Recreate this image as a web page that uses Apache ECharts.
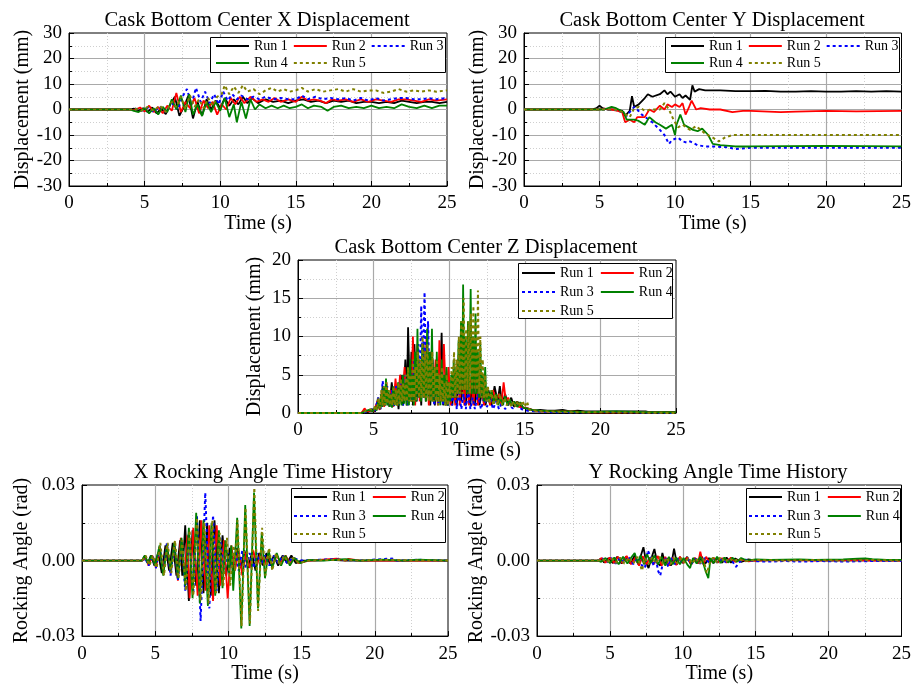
<!DOCTYPE html>
<html>
<head>
<meta charset="utf-8">
<title>Cask Bottom Center Response</title>
<script src="https://cdn.jsdelivr.net/npm/echarts@6/dist/echarts.min.js"></script>
<style>
  html, body { margin: 0; padding: 0; background: #fff; }
  #chart { width: 914px; height: 685px; }
</style>
</head>
<body>
<div id="chart"></div>
<script>
// ---- Data: [time (s), value] pairs per run ----
const runNames = ['Run 1', 'Run 2', 'Run 3', 'Run 4', 'Run 5'];
const timeTicks = [0, 5, 10, 15, 20, 25];

// Cask bottom center X displacement (mm)
const xDisp1 = [[0,0],[4,0],[4.3,0.3],[4.6,-0.5],[4.9,0.5],[5.2,-1],[5.5,0.8],[5.8,-1.5],[6.1,0.5],[6.4,-1.8],[6.7,2],[7.0,5],[7.3,-2.5],[7.6,1],[7.9,5.5],[8.2,-3.5],[8.5,3],[8.8,-2.5],[9.1,4],[9.4,0],[9.7,3.5],[10.0,0.5],[10.3,4.5],[10.6,1.5],[10.9,4],[11.2,2],[11.5,5],[11.8,2.5],[12.1,4.5],[12.5,2.5],[13,4],[13.5,3],[14,3.5],[14.5,2.5],[15,3.5],[15.5,4],[16,3],[16.5,3.5],[17,2.5],[17.5,3.5],[18,3],[18.5,3.5],[19,2.5],[19.5,3],[20,3],[20.5,2.5],[21,3],[21.5,2.5],[22,3.5],[22.5,3],[23,2.5],[23.5,3],[24,3],[24.5,2.5],[25,3]];
const xDisp2 = [[0,0],[4,0],[4.3,-0.3],[4.7,0.8],[5.0,-0.8],[5.3,1.5],[5.6,-1],[5.9,1],[6.2,-1.5],[6.5,1.5],[6.8,-0.5],[7.1,6.5],[7.4,-1],[7.7,3],[8.0,0.5],[8.3,4.5],[8.6,-1.5],[8.9,3.5],[9.2,0.5],[9.5,3],[9.8,-2],[10.1,2],[10.4,0],[10.7,4.5],[11.0,2],[11.3,5],[11.6,2.5],[12.0,5],[12.4,3],[12.8,4],[13.2,3],[13.6,4.5],[14,3],[14.5,4],[15,3],[15.4,5],[15.8,3.5],[16.2,4],[16.6,3.5],[17,2.5],[17.4,4],[17.8,3.5],[18.3,4],[18.8,3],[19.3,4],[19.8,3],[20.3,4],[20.8,3.5],[21.3,3],[21.8,4],[22.3,4],[22.8,3.5],[23.3,3],[23.8,4],[24.3,3.5],[25,4]];
const xDisp3 = [[0,0],[4,0],[4.4,0.3],[4.8,-0.5],[5.2,0.8],[5.6,-1],[6.0,1.2],[6.4,-1],[6.8,2.5],[7.2,0],[7.5,5],[7.8,8],[8.1,2],[8.4,8.5],[8.7,3],[9.0,7],[9.3,2.5],[9.6,6],[9.9,2],[10.2,7],[10.5,3.5],[10.8,6],[11.1,4],[11.4,5.5],[11.8,4],[12.2,5],[12.6,4],[13,5],[13.5,4],[14,4.5],[14.5,4],[15,4],[15.4,5.5],[15.8,4],[16.3,5],[16.8,4],[17.3,4.5],[17.8,4],[18.3,4.5],[18.8,3.5],[19.3,4.5],[19.8,3.5],[20.3,4.5],[20.8,3.5],[21.3,4],[21.8,4.5],[22.3,4.5],[22.8,4],[23.3,4],[23.8,4.5],[24.3,4],[25,4.5]];
const xDisp4 = [[0,0],[4,0],[4.3,-0.5],[4.6,-1],[5.0,0.5],[5.3,-1.5],[5.6,0.5],[5.9,-2],[6.2,1],[6.5,-1],[6.8,4],[7.1,0],[7.4,5.5],[7.7,-1],[7.95,6],[8.2,-2],[8.5,2],[8.8,-2.5],[9.1,3],[9.4,-1],[9.7,3],[10.0,-0.5],[10.3,4.5],[10.6,-3],[10.9,2],[11.1,-5],[11.4,3],[11.7,-3.5],[12.0,4],[12.3,0],[12.6,2],[13,0.5],[13.4,1.5],[13.8,0.5],[14.2,1.5],[14.6,0.5],[15,1],[15.4,2],[15.8,0.5],[16.2,1.5],[16.7,1],[17.1,-0.5],[17.5,1],[18,1.5],[18.5,0.5],[19,1],[19.5,0.5],[20,1.5],[20.5,0.5],[21,1],[21.5,0.5],[22,2],[22.5,1],[23,0.5],[23.5,1.5],[24,0.5],[24.5,1.5],[25,1.5]];
const xDisp5 = [[0,0],[4,0],[4.4,0.3],[4.8,-0.5],[5.2,1],[5.6,-0.5],[6.0,1.5],[6.4,-1],[6.8,3],[7.1,1],[7.4,5],[7.7,0],[8.0,5.5],[8.3,1],[8.6,4],[8.9,0.5],[9.2,4.5],[9.5,1.5],[9.8,5],[10.1,6],[10.3,9.5],[10.6,6],[10.9,9],[11.2,6.5],[11.5,9.5],[11.8,7],[12.2,8],[12.6,6],[13,7.5],[13.4,8.5],[13.8,7],[14.2,8],[14.6,7],[15,7.5],[15.4,8.5],[15.8,7],[16.3,8],[16.8,7],[17.3,7.5],[17.8,8],[18.3,7],[18.8,8],[19.3,7],[19.8,7.5],[20.3,7.5],[20.8,6.5],[21.3,7],[21.8,8],[22.3,7],[22.8,7.5],[23.3,7],[23.8,7.5],[24.3,7],[25,7.5]];

// Cask bottom center Y displacement (mm)
const yDisp1 = [[0,0],[4.5,0],[4.8,0.5],[5.0,1.5],[5.2,0.5],[5.5,0],[6.0,0],[6.5,-0.5],[6.7,-2.5],[7.0,-0.5],[7.15,5.2],[7.3,1],[7.6,2],[8.0,4.5],[8.2,6],[8.5,5],[9.0,6],[9.3,7.5],[9.5,6],[9.7,7],[10.0,5],[10.3,6],[10.5,4.5],[10.7,5.5],[11.0,3.8],[11.15,9.5],[11.3,7],[11.6,8],[12,7.5],[13,7.5],[14,7.2],[15,7.2],[16,7.3],[17,7.0],[18,7.0],[19,7.2],[20,7.0],[21,7.0],[22,7.2],[23,7.0],[24,7.2],[25,7.0]];
const yDisp2 = [[0,0],[5.0,0],[5.3,0.3],[5.8,0],[6.2,-0.5],[6.5,-1],[6.7,-5],[7.0,-4],[7.3,-5],[7.5,-3],[8.0,-3],[8.3,0],[8.6,-1],[9.0,1.5],[9.3,0],[9.5,2],[9.8,1],[10.0,2],[10.3,1],[10.5,2.5],[10.7,-2],[10.9,0.5],[11.1,3.5],[11.4,0],[11.7,0.5],[12.3,0],[13,0],[13.8,-1],[14.5,-0.5],[15,-0.5],[17,-1],[18,-0.8],[20,-0.5],[22,-0.7],[25,-0.5]];
const yDisp3 = [[0,0],[6.0,0],[6.5,-1],[6.8,-2.5],[7.0,-1],[7.3,1],[7.5,0],[7.8,-2],[8.5,-5],[9.0,-8],[9.3,-10],[9.6,-13.5],[9.8,-12],[10.2,-11],[10.5,-12.5],[10.8,-13],[11.0,-12.5],[11.5,-14],[12,-14.5],[12.5,-14.5],[13.5,-14.8],[14,-15.5],[15,-15],[20,-15],[25,-15]];
const yDisp4 = [[0,0],[5.3,0],[5.8,1],[6.1,0.5],[6.6,-1],[6.8,-4],[7.3,-4],[7.6,-4.5],[8.0,-6],[8.3,-3],[8.7,-5],[9.0,-6],[9.4,-7.5],[9.8,-6],[10.0,-10],[10.1,-6],[10.35,-2],[10.6,-6],[10.9,-7],[11.2,-8],[11.5,-8.5],[11.8,-7.5],[12.2,-10],[12.5,-13.5],[13,-14],[14,-14.5],[15,-14.5],[20,-14.3],[25,-14.5]];
const yDisp5 = [[0,0],[6.0,0],[6.5,-1],[7.0,-3],[7.3,0.5],[7.6,1],[8,-0.5],[8.5,0],[9,0],[9.3,2.5],[9.6,0],[9.9,-4],[10.2,-7],[10.5,-6],[11,-8],[11.4,-6.5],[12,-9.5],[12.5,-11],[12.9,-12.5],[13.3,-11],[13.8,-10],[15,-10],[20,-10],[25,-10]];

// Cask bottom center Z displacement (mm)
const zDisp1 = [[0,0],[4.2,0],[4.4,0.3],[4.6,0.1],[4.9,0.5],[5.1,0.2],[5.3,2],[5.45,0.5],[5.6,3.5],[5.75,1],[5.9,3],[6.05,0.8],[6.2,4],[6.35,1],[6.5,3.5],[6.65,0.5],[6.8,5],[6.95,1],[7.1,7],[7.2,1.5],[7.28,11.2],[7.4,2],[7.5,8],[7.6,1],[7.7,9],[7.85,1.5],[8.0,7],[8.15,1],[8.3,9],[8.45,1.5],[8.6,8],[8.75,1],[8.9,7],[9.05,1],[9.2,6],[9.35,1.5],[9.5,10.5],[9.6,1],[9.75,5],[9.9,1],[10.05,3],[10.2,1],[10.35,4],[10.5,1],[10.65,6],[10.8,1.5],[10.95,5],[11.1,1],[11.25,6],[11.4,1],[11.55,5],[11.7,1],[11.85,4],[12.0,1],[12.2,3],[12.4,1],[12.6,3],[12.8,1],[13.0,3.5],[13.2,1.5],[13.35,3.5],[13.5,1],[13.7,2.5],[13.9,1],[14.1,2],[14.3,0.8],[14.5,1.5],[14.8,0.7],[15.2,0.6],[15.6,0.3],[16,0.4],[16.5,0.3],[17,0.3],[17.5,0.4],[18,0.2],[18.5,0.3],[19,0.2],[20,0.2],[21,0.2],[22,0.2],[23,0.2],[23.2,0.1],[24,0.1],[25,0.1]];
const zDisp2 = [[0,0],[4.2,0],[4.4,0.6],[4.55,0.2],[4.8,0.3],[5.0,0.2],[5.25,1.5],[5.4,0.4],[5.55,3],[5.7,0.8],[5.85,4],[6.0,1],[6.15,3],[6.3,0.8],[6.45,4.5],[6.6,1],[6.75,5],[6.9,1.5],[7.05,6],[7.2,1],[7.35,5],[7.5,1.5],[7.6,10],[7.75,1],[7.9,9],[8.05,1.5],[8.2,7],[8.35,2],[8.5,10],[8.65,1],[8.8,8],[8.95,1.5],[9.1,7],[9.25,1],[9.35,9.5],[9.5,1.5],[9.65,9],[9.8,1],[9.95,6],[10.1,1],[10.25,5],[10.4,1],[10.55,7],[10.7,1],[10.85,6],[11.0,1],[11.15,5],[11.3,1],[11.45,4.5],[11.6,1],[11.75,5],[11.9,1],[12.1,3.5],[12.3,1],[12.5,3],[12.7,1],[12.9,3],[13.1,1.5],[13.3,2.5],[13.45,1],[13.6,4],[13.75,1.5],[13.9,2],[14.1,1],[14.3,1.5],[14.6,0.8],[15,0.7],[15.5,0.4],[16,0.2],[17,0.2],[18,0.2],[19,0.1],[20,0.1],[22,0.1],[25,0.1]];
const zDisp3 = [[0,0],[4.3,0],[4.6,0.3],[4.9,0.5],[5.1,0.3],[5.3,2],[5.45,0.5],[5.6,4.2],[5.75,1],[5.9,3.5],[6.05,1],[6.2,3],[6.35,0.8],[6.5,3.5],[6.65,1],[6.8,4],[6.95,1],[7.1,5],[7.25,1],[7.4,6],[7.55,1.5],[7.7,7],[7.85,1.5],[7.95,9],[8.05,3],[8.15,14],[8.25,4],[8.37,15.8],[8.48,3],[8.6,12],[8.72,2],[8.85,8],[9.0,1],[9.15,6],[9.3,1],[9.45,5],[9.6,1],[9.75,4],[9.9,0.8],[10.05,3],[10.2,1],[10.35,4],[10.5,0.5],[10.65,3],[10.8,0.5],[10.95,2.5],[11.1,0.5],[11.25,3],[11.4,0.5],[11.55,2],[11.7,0.5],[11.9,2.5],[12.1,0.5],[12.3,2],[12.5,0.8],[12.7,2],[12.9,0.5],[13.1,1.5],[13.3,0.5],[13.5,1.5],[13.7,0.5],[13.9,1.2],[14.2,0.6],[14.5,1],[14.8,0.5],[15.2,0.3],[16,0.2],[17,0.1],[19,0.1],[21,0.15],[22,0.1],[25,0]];
const zDisp4 = [[0,0],[4.2,0],[4.4,0.2],[4.7,0.4],[4.95,0.2],[5.1,0.8],[5.2,0.3],[5.3,1.5],[5.4,0.5],[5.5,2.5],[5.58,0.8],[5.66,3.5],[5.74,1],[5.82,4.5],[5.9,1],[5.98,3],[6.06,0.8],[6.14,2.5],[6.22,0.7],[6.3,3.5],[6.38,1],[6.46,3],[6.54,1],[6.62,4],[6.7,1],[6.78,3.5],[6.86,1],[6.94,5],[7.02,1.2],[7.1,4],[7.18,1],[7.26,6],[7.34,1],[7.42,7],[7.5,1.5],[7.58,5],[7.66,1],[7.74,8],[7.82,1.5],[7.9,11],[7.98,2],[8.06,6],[8.14,1.5],[8.22,9],[8.3,2],[8.38,7],[8.46,1.5],[8.54,11],[8.62,2],[8.7,8],[8.78,1.5],[8.86,11],[8.94,1.5],[9.02,6],[9.1,1.5],[9.18,8],[9.26,1.5],[9.34,5],[9.42,1],[9.5,7],[9.58,1.5],[9.66,5],[9.74,1],[9.82,6],[9.9,1],[9.98,4],[10.06,1.5],[10.14,5],[10.22,2],[10.3,7],[10.38,2],[10.46,6],[10.54,2.5],[10.62,9.5],[10.7,2.5],[10.78,12],[10.86,3],[10.92,16.8],[11.0,3],[11.08,10],[11.16,2.5],[11.24,12],[11.32,2.5],[11.42,16.2],[11.5,2.5],[11.58,10],[11.66,2.5],[11.74,13],[11.82,2.5],[11.9,8],[11.98,2],[12.06,9],[12.14,2],[12.22,5],[12.3,1.5],[12.38,6],[12.46,1.5],[12.55,3],[12.65,1.5],[12.8,3],[12.95,1.2],[13.1,2.5],[13.25,1],[13.4,2],[13.55,1],[13.7,2.2],[13.85,1],[14.0,1.8],[14.15,1],[14.3,1.5],[14.5,0.8],[14.7,1.4],[14.9,0.7],[15.1,0.6],[15.5,0.4],[16,0.3],[17,0.2],[18,0.2],[19,0.1],[21,0.2],[23,0.1],[25,0.1]];
const zDisp5 = [[0,0],[4.2,0],[4.5,0.3],[4.8,0.5],[5.0,0.3],[5.12,1],[5.22,0.4],[5.32,2],[5.42,0.6],[5.52,3],[5.6,1],[5.68,3.5],[5.76,1],[5.84,4],[5.92,1.2],[6.0,3],[6.08,1],[6.16,2.5],[6.24,1],[6.32,3.5],[6.4,1],[6.48,3],[6.56,1],[6.64,4],[6.72,1.2],[6.8,4.5],[6.88,1.5],[6.96,4],[7.04,1.5],[7.12,5],[7.2,1.5],[7.28,6],[7.36,1.5],[7.44,5],[7.52,1.5],[7.6,7],[7.68,1.5],[7.76,6],[7.84,1.5],[7.92,8],[8.0,2],[8.08,7],[8.16,2],[8.24,10],[8.32,2],[8.4,8],[8.48,2],[8.56,9],[8.64,1.5],[8.72,7],[8.8,1.5],[8.88,8],[8.96,1.5],[9.04,6],[9.12,1.5],[9.2,7],[9.28,1],[9.36,5],[9.44,1.5],[9.52,6],[9.6,1.5],[9.68,4],[9.76,1],[9.84,5],[9.92,1],[10.0,4],[10.08,2],[10.16,6],[10.24,2],[10.32,8],[10.4,2],[10.48,7],[10.56,2],[10.64,10],[10.72,2.5],[10.8,12],[10.88,2.5],[10.96,15],[11.04,3],[11.12,11],[11.2,3],[11.28,12],[11.36,2.5],[11.44,13],[11.52,3],[11.6,14],[11.68,3],[11.76,12],[11.84,3],[11.9,16],[11.98,2.5],[12.06,10],[12.14,2],[12.22,7],[12.3,2],[12.38,5],[12.46,1.5],[12.56,3.5],[12.66,1.2],[12.8,3],[12.92,1],[13.05,2.5],[13.2,1],[13.35,2.5],[13.5,1],[13.65,2],[13.8,1],[13.95,1.8],[14.1,0.8],[14.25,1.5],[14.4,0.8],[14.55,1.6],[14.7,0.8],[14.85,1.6],[15.0,0.8],[15.15,1.5],[15.3,0.4],[15.7,0.3],[16.5,0.2],[18,0.1],[20,0.1],[25,0]];

// X rocking angle (rad)
const xRock1 = [[0,0],[4.1,0],[4.3,0.002],[4.5,-0.001],[4.7,0.002],[4.95,-0.002],[5.2,0.003],[5.45,-0.005],[5.7,0.006],[5.95,-0.004],[6.2,0.007],[6.45,-0.006],[6.7,0.008],[6.85,-0.006],[7.05,0.014],[7.3,-0.016],[7.55,0.012],[7.8,-0.01],[8.05,0.016],[8.3,-0.013],[8.55,0.015],[8.8,-0.014],[9.05,0.016],[9.35,-0.013],[9.6,0.01],[9.85,-0.006],[10.1,0.005],[10.35,-0.004],[10.6,0.005],[10.85,-0.003],[11.1,0.004],[11.35,-0.003],[11.6,0.003],[11.85,-0.004],[12.1,0.003],[12.35,-0.002],[12.6,0.003],[12.85,-0.002],[13.1,0.002],[13.4,-0.002],[13.7,0.002],[14.0,-0.001],[14.3,0.002],[14.6,-0.001],[15,0],[16,0],[17,0.0003],[18,0],[20,0],[22,0],[25,0]];
const xRock2 = [[0,0],[4.1,0],[4.35,0.001],[4.55,-0.002],[4.8,0.002],[5.05,-0.003],[5.3,0.005],[5.55,-0.004],[5.8,0.006],[6.05,-0.005],[6.3,0.007],[6.55,-0.008],[6.75,0.009],[7.0,-0.006],[7.2,0.01],[7.35,-0.015],[7.6,0.013],[7.9,-0.014],[8.15,0.016],[8.45,-0.012],[8.7,0.014],[8.95,-0.016],[9.2,0.014],[9.45,-0.01],[9.7,0.008],[9.95,-0.015],[10.2,0.006],[10.45,-0.004],[10.7,0.004],[10.95,-0.006],[11.2,0.003],[11.45,-0.003],[11.7,0.004],[11.95,-0.002],[12.2,0.003],[12.45,-0.002],[12.7,0.002],[13.0,-0.002],[13.3,0.002],[13.6,-0.001],[13.9,0.002],[14.2,-0.001],[14.5,0.001],[14.8,-0.001],[15.5,0],[17.4,0.0008],[18,0],[18.2,0.0007],[19,0],[21,0],[23,0],[25,0]];
const xRock3 = [[0,0],[4.1,0],[4.3,0.001],[4.55,-0.002],[4.8,0.002],[5.05,-0.003],[5.3,0.006],[5.55,-0.005],[5.8,0.007],[6.05,-0.006],[6.3,0.007],[6.55,-0.008],[6.8,0.008],[7.05,-0.012],[7.3,0.011],[7.6,-0.013],[7.85,0.018],[8.1,-0.024],[8.42,0.027],[8.7,-0.019],[8.95,0.018],[9.2,-0.012],[9.45,0.009],[9.7,-0.005],[9.95,0.004],[10.2,-0.003],[10.45,0.005],[10.7,-0.004],[10.95,0.004],[11.2,-0.003],[11.45,0.003],[11.7,-0.003],[11.95,0.003],[12.2,-0.002],[12.5,0.002],[12.8,-0.002],[13.1,0.002],[13.4,-0.001],[13.7,0.002],[14.0,-0.001],[14.4,0.001],[15,0],[17,0.0005],[19,0],[21.2,0.0008],[21.5,0],[23,0.0003],[25,0]];
const xRock4 = [[0,0],[4.1,0],[4.3,0.002],[4.5,-0.001],[4.75,0.002],[5.0,-0.002],[5.3,0.006],[5.55,-0.006],[5.8,0.006],[6.05,-0.004],[6.3,0.007],[6.55,-0.007],[6.8,0.009],[7.05,-0.01],[7.3,0.013],[7.55,-0.015],[7.8,0.019],[8.05,-0.017],[8.3,0.016],[8.6,-0.018],[8.85,0.015],[9.1,-0.014],[9.35,0.012],[9.6,-0.011],[9.8,0.008],[10.05,-0.005],[10.2,0.006],[10.33,-0.012],[10.6,0.017],[10.88,-0.027],[11.15,0.022],[11.45,-0.026],[11.75,0.027],[12.02,-0.019],[12.28,0.011],[12.5,-0.007],[12.75,0.004],[13.0,-0.003],[13.3,0.003],[13.6,-0.002],[13.9,0.002],[14.2,-0.002],[14.5,0.001],[14.9,-0.001],[15.5,0.0003],[16.5,0],[18,0.0006],[19,0],[20.5,0.0004],[22,0],[23,0.0004],[25,0]];
const xRock5 = [[0,0],[4.1,0],[4.35,0.002],[4.6,-0.002],[4.85,0.002],[5.1,-0.003],[5.35,0.007],[5.6,-0.006],[5.85,0.007],[6.1,-0.005],[6.35,0.008],[6.6,-0.007],[6.85,0.008],[7.1,-0.012],[7.35,0.012],[7.6,-0.014],[7.85,0.017],[8.1,-0.016],[8.35,0.015],[8.65,-0.017],[8.9,0.016],[9.15,-0.013],[9.4,0.011],[9.65,-0.01],[9.9,0.009],[10.12,-0.01],[10.35,0.006],[10.45,-0.004],[10.62,0.016],[10.9,-0.026],[11.17,0.021],[11.47,-0.025],[11.77,0.029],[12.03,-0.02],[12.3,0.013],[12.52,-0.006],[12.78,0.005],[13.0,-0.004],[13.25,0.003],[13.5,-0.002],[13.8,0.002],[14.1,-0.001],[14.4,0.001],[14.8,-0.001],[15.5,0],[17,0.0003],[19,0],[21,0.0003],[23,0],[25,0]];

// Y rocking angle (rad)
const yRock1 = [[0,0],[4.2,0],[4.4,0.0008],[4.6,-0.0008],[4.9,0.001],[5.2,-0.001],[5.5,0.0015],[5.8,-0.0012],[6.1,0.0015],[6.4,-0.0012],[6.7,0.002],[6.95,-0.0015],[7.1,0.0015],[7.3,0.0053],[7.5,-0.001],[7.65,-0.003],[7.85,0.001],[8.05,0.0046],[8.25,-0.001],[8.45,-0.002],[8.6,0.003],[8.8,-0.0015],[9.0,0.001],[9.2,-0.002],[9.4,0.0047],[9.6,-0.0015],[9.8,0.0015],[10.0,-0.001],[10.3,0.0015],[10.55,-0.0015],[10.8,0.001],[11.05,-0.001],[11.3,0.0015],[11.55,-0.0012],[11.8,0.001],[12.1,-0.001],[12.4,0.001],[12.7,-0.0008],[13.0,0.0012],[13.3,-0.0008],[13.6,0.0008],[14.0,-0.0005],[14.5,0.0005],[15,0],[16,0.0002],[18,0.0003],[20,0],[22,0.0002],[25,0]];
const yRock2 = [[0,0],[4.2,0],[4.45,0.001],[4.7,-0.0008],[5.0,0.0012],[5.3,-0.001],[5.55,0.0015],[5.85,-0.001],[6.15,0.0018],[6.45,-0.0015],[6.75,0.0012],[7.0,-0.002],[7.25,0.0018],[7.5,-0.0015],[7.75,0.0012],[8.0,-0.0015],[8.3,0.0018],[8.55,-0.002],[8.8,0.0015],[9.05,-0.002],[9.3,0.0012],[9.55,-0.0018],[9.8,0.0015],[10.05,-0.001],[10.3,0.0012],[10.6,-0.0015],[10.85,0.001],[11.05,-0.0012],[11.2,0.0035],[11.4,-0.0015],[11.6,0.0015],[11.85,-0.001],[12.1,0.0012],[12.4,-0.0008],[12.7,0.001],[13.0,-0.0008],[13.3,0.0012],[13.6,-0.0005],[14.0,0.0005],[14.5,-0.0003],[15,0],[17,0.0002],[19,0],[21,0.0002],[23,0],[25,0]];
const yRock3 = [[0,0],[4.2,0],[4.5,0.0008],[4.8,-0.0008],[5.1,0.001],[5.4,-0.0012],[5.7,0.0012],[6.0,-0.001],[6.3,0.0015],[6.6,-0.0015],[6.9,0.0012],[7.2,-0.002],[7.4,-0.003],[7.6,0.004],[7.8,0.0015],[8.0,-0.002],[8.15,0.001],[8.3,-0.004],[8.45,-0.006],[8.6,-0.002],[8.8,0.001],[9.0,-0.0025],[9.2,0.001],[9.45,-0.0015],[9.7,0.001],[10.0,-0.0012],[10.3,0.001],[10.6,-0.0012],[10.9,0.0008],[11.2,-0.0012],[11.5,0.001],[11.8,-0.0008],[12.1,0.0008],[12.4,-0.001],[12.7,0.0008],[13.0,-0.001],[13.3,0.0005],[13.65,-0.0025],[13.9,-0.0005],[14.3,0.0003],[15,-0.0003],[16,-0.0004],[17,-0.0002],[18,-0.0004],[19.5,-0.0002],[21,-0.0004],[23,-0.0002],[25,-0.0002]];
const yRock4 = [[0,0],[4.2,0],[4.4,-0.0005],[4.7,0.001],[5.0,-0.001],[5.3,0.0012],[5.6,-0.0015],[5.9,0.0015],[6.2,-0.0012],[6.5,0.0015],[6.7,0.003],[6.9,-0.001],[7.1,0.002],[7.35,-0.0015],[7.55,0.0025],[7.8,-0.001],[8.05,0.002],[8.3,-0.0015],[8.55,0.0015],[8.8,-0.002],[9.05,0.0015],[9.3,-0.0015],[9.55,0.0012],[9.8,-0.0015],[10.05,0.001],[10.3,-0.0015],[10.5,-0.003],[10.7,0.001],[10.95,-0.0012],[11.2,0.0015],[11.4,-0.001],[11.55,-0.004],[11.75,-0.007],[11.9,0.001],[12.1,-0.001],[12.35,0.0015],[12.6,-0.001],[12.85,0.0012],[13.1,-0.0008],[13.4,0.0012],[13.7,-0.0005],[14.0,0.001],[14.4,0],[15,0.0005],[16,0.0003],[17,0.0004],[18,0.0005],[19,0.0003],[20,0.0004],[21,0.0005],[22,0.0008],[22.5,0.0009],[23,0.0006],[24,0.0003],[25,0.0003]];
const yRock5 = [[0,0],[4.2,0],[4.5,0.0006],[4.8,-0.0008],[5.1,0.001],[5.4,-0.001],[5.7,0.0012],[6.0,-0.0012],[6.3,0.0012],[6.6,-0.0012],[6.9,0.0015],[7.2,-0.004],[7.4,0.001],[7.65,-0.0015],[7.9,0.0015],[8.15,-0.0012],[8.4,0.0015],[8.65,-0.0015],[8.9,0.0012],[9.15,-0.0015],[9.4,0.001],[9.65,-0.0012],[9.9,0.001],[10.15,-0.001],[10.4,0.0012],[10.65,-0.0012],[10.9,0.001],[11.15,-0.0012],[11.4,0.0008],[11.65,-0.005],[11.85,-0.001],[12.1,0.0012],[12.35,-0.0008],[12.6,0.0015],[12.9,-0.0008],[13.2,0.001],[13.5,-0.0005],[13.8,0.0008],[14.2,-0.0003],[15,0.0002],[17,0],[19,0.0002],[21,0],[23,0.0002],[25,0]];

// ---- Styling ----
const FONT = 'Liberation Serif';
const runStyles = [
  { color: '#000000', type: 'solid', width: 1.8 },
  { color: '#ff0000', type: 'solid', width: 1.8 },
  { color: '#0000ff', type: [3, 3], width: 2 },
  { color: '#008000', type: 'solid', width: 1.8 },
  { color: '#808000', type: [3, 3], width: 2 }
];

const panels = [
  { title: 'Cask Bottom Center X Displacement', titleX: 257, titleY: 21,
    grid: { left: 69, top: 33, width: 378, height: 153 },
    y: { min: -30, max: 30, interval: 10, name: 'Displacement (mm)', nameGap: 36, digits: 0 },
    xNameGap: 26, runs: [xDisp1, xDisp2, xDisp3, xDisp4, xDisp5],
    legend: { box: [210, 37, 235, 35], left: 215, tops: [39, 56], rows: [[0, 1, 2], [3, 4]], gap: 5 } },
  { title: 'Cask Bottom Center Y Displacement', titleX: 712, titleY: 21,
    grid: { left: 524, top: 33, width: 378, height: 153 },
    y: { min: -30, max: 30, interval: 10, name: 'Displacement (mm)', nameGap: 36, digits: 0 },
    xNameGap: 26, runs: [yDisp1, yDisp2, yDisp3, yDisp4, yDisp5],
    legend: { box: [665, 37, 234, 35], left: 670, tops: [39, 56], rows: [[0, 1, 2], [3, 4]], gap: 5 } },
  { title: 'Cask Bottom Center Z Displacement', titleX: 486, titleY: 248,
    grid: { left: 298, top: 260, width: 378, height: 153 },
    y: { min: 0, max: 20, interval: 5, name: 'Displacement (mm)', nameGap: 33, digits: 0 },
    xNameGap: 28, runs: [zDisp1, zDisp2, zDisp3, zDisp4, zDisp5],
    legend: { box: [518, 263, 154, 55], left: 521, tops: [266, 285, 304], rows: [[0, 1], [2, 3], [4]], gap: 6 } },
  { title: 'X Rocking Angle Time History', titleX: 263, titleY: 473,
    grid: { left: 82, top: 485, width: 366, height: 156 },
    y: { min: -0.03, max: 0.03, interval: 0.03, name: 'Rocking Angle (rad)', nameGap: 50, digits: 2 },
    xNameGap: 23, runs: [xRock1, xRock2, xRock3, xRock4, xRock5],
    legend: { box: [291, 488, 154, 54], left: 293, tops: [490, 509, 527], rows: [[0, 1], [2, 3], [4]], gap: 6 } },
  { title: 'Y Rocking Angle Time History', titleX: 718, titleY: 473,
    grid: { left: 537, top: 485, width: 366, height: 156 },
    y: { min: -0.03, max: 0.03, interval: 0.03, name: 'Rocking Angle (rad)', nameGap: 50, digits: 2 },
    xNameGap: 23, runs: [yRock1, yRock2, yRock3, yRock4, yRock5],
    legend: { box: [746, 488, 154, 54], left: 748, tops: [490, 509, 527], rows: [[0, 1], [2, 3], [4]], gap: 6 } }
];

const axisText = { fontFamily: FONT, fontSize: 19, color: '#000' };
const nameText = { fontFamily: FONT, fontSize: 20, color: '#000' };
const majorGrid = { show: true, showMinLine: false, showMaxLine: false, lineStyle: { color: '#a9a9a9', width: 1.2 } };
const minorGrid = { show: true, lineStyle: { color: '#cfcfcf', width: 1, type: [1, 2] } };

const grids = [], xAxes = [], yAxes = [], series = [], legends = [], graphics = [];

panels.forEach((p, i) => {
  grids.push(Object.assign({ show: true, borderColor: '#000', borderWidth: 1, backgroundColor: 'transparent', containLabel: false }, p.grid));
  xAxes.push({
    type: 'value', gridIndex: i, min: timeTicks[0], max: timeTicks[timeTicks.length - 1], interval: timeTicks[1] - timeTicks[0],
    name: 'Time (s)', nameLocation: 'middle', nameGap: p.xNameGap, nameTextStyle: nameText,
    axisLine: { onZero: false, lineStyle: { color: '#000', width: 1 } },
    axisTick: { inside: true, length: 5, lineStyle: { color: '#000' } },
    minorTick: { show: true, splitNumber: 2, length: 3, lineStyle: { color: '#000' } },
    axisLabel: Object.assign({ margin: 8 }, axisText),
    splitLine: majorGrid, minorSplitLine: minorGrid
  });
  yAxes.push({
    type: 'value', gridIndex: i, min: p.y.min, max: p.y.max, interval: p.y.interval,
    name: p.y.name, nameLocation: 'middle', nameGap: p.y.nameGap, nameTextStyle: nameText,
    axisLine: { onZero: false, lineStyle: { color: '#000', width: 1 } },
    axisTick: { inside: true, length: 5, lineStyle: { color: '#000' } },
    minorTick: { show: true, splitNumber: 2, length: 3, lineStyle: { color: '#000' } },
    axisLabel: Object.assign({ margin: 7, formatter: v => Number(v).toFixed(p.y.digits) }, axisText),
    splitLine: majorGrid, minorSplitLine: minorGrid
  });
  p.runs.forEach((data, r) => {
    const s = runStyles[r];
    series.push({
      type: 'line', name: runNames[r], xAxisIndex: i, yAxisIndex: i, data: data,
      symbol: 'none', showSymbol: false, clip: true, animation: false,
      lineStyle: { color: s.color, width: s.width, type: s.type },
      itemStyle: { color: s.color }
    });
  });
  // legend frame and rows (line keys only, no marker)
  const b = p.legend.box;
  graphics.push({ type: 'rect', z: 3, shape: { x: b[0] + 0.5, y: b[1] + 0.5, width: b[2], height: b[3] },
    style: { fill: '#fff', stroke: '#000', lineWidth: 1 } });
  p.legend.rows.forEach((row, k) => {
    legends.push({
      left: p.legend.left, top: p.legend.tops[k], orient: 'horizontal', padding: 0,
      itemWidth: 33, itemHeight: 12, itemGap: p.legend.gap, selectedMode: false, z: 5,
      itemStyle: { color: 'rgba(0,0,0,0)', borderWidth: 0, opacity: 0 },
      textStyle: { fontFamily: FONT, fontSize: 14, color: '#000' },
      data: row.map(r => runNames[r])
    });
  });
  graphics.push({ type: 'text', z: 5, x: p.titleX, y: p.titleY,
    style: { text: p.title, fontFamily: FONT, fontSize: 20.5, fill: '#000', textAlign: 'center', textVerticalAlign: 'middle' } });
});

const chart = echarts.init(document.getElementById('chart'), null, { renderer: 'canvas' });
chart.setOption({
  backgroundColor: '#fff',
  animation: false,
  grid: grids, xAxis: xAxes, yAxis: yAxes, series: series,
  legend: legends, graphic: { elements: graphics }
});
</script>
</body>
</html>
